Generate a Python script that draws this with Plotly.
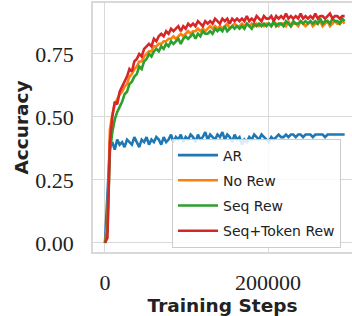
import plotly.graph_objects as go

steps = [3000 * i for i in range(99)]

ar = [0.00, 0.17, 0.38, 0.40, 0.37, 0.41, 0.39, 0.40, 0.38, 0.41,
      0.40, 0.39, 0.42, 0.40, 0.38, 0.41, 0.40, 0.42, 0.39, 0.41,
      0.40, 0.42, 0.41, 0.39, 0.42, 0.40, 0.41, 0.43, 0.40, 0.42,
      0.41, 0.43, 0.40, 0.42, 0.41, 0.43, 0.42, 0.40, 0.43, 0.41,
      0.42, 0.44, 0.41, 0.43, 0.42, 0.41, 0.43, 0.42, 0.44, 0.41,
      0.43, 0.42, 0.40, 0.43, 0.41, 0.42, 0.39, 0.41, 0.40, 0.42,
      0.41, 0.43, 0.42, 0.41, 0.43, 0.42, 0.41, 0.40, 0.42, 0.41,
      0.42, 0.43, 0.42, 0.42, 0.43, 0.42, 0.43, 0.43, 0.42, 0.43,
      0.43, 0.42, 0.43, 0.43, 0.43, 0.42, 0.43, 0.43, 0.43, 0.43,
      0.42, 0.43, 0.43, 0.43, 0.43, 0.43, 0.43, 0.43, 0.43]

no_rew = [0.00, 0.08, 0.45, 0.51, 0.55, 0.57, 0.59, 0.60, 0.62, 0.63,
          0.66, 0.67, 0.69, 0.70, 0.72, 0.72, 0.74, 0.75, 0.76, 0.76,
          0.78, 0.78, 0.79, 0.79, 0.80, 0.80, 0.81, 0.81, 0.82, 0.81,
          0.82, 0.83, 0.82, 0.83, 0.84, 0.83, 0.84, 0.84, 0.85, 0.84,
          0.85, 0.84, 0.85, 0.86, 0.85, 0.86, 0.85, 0.86, 0.85, 0.86,
          0.87, 0.85, 0.86, 0.87, 0.86, 0.86, 0.87, 0.86, 0.87, 0.86,
          0.87, 0.86, 0.87, 0.86, 0.87, 0.86, 0.87, 0.87, 0.86, 0.87,
          0.87, 0.86, 0.87, 0.87, 0.86, 0.88, 0.86, 0.87, 0.87, 0.86,
          0.88, 0.87, 0.86, 0.87, 0.88, 0.86, 0.87, 0.87, 0.88, 0.86,
          0.87, 0.88, 0.86, 0.87, 0.88, 0.87, 0.87, 0.88, 0.87]

seq_rew = [0.00, 0.05, 0.36, 0.44, 0.49, 0.52, 0.54, 0.56, 0.59, 0.60,
           0.63, 0.64, 0.66, 0.67, 0.70, 0.69, 0.72, 0.73, 0.75, 0.74,
           0.76, 0.77, 0.76, 0.78, 0.77, 0.79, 0.78, 0.80, 0.79, 0.80,
           0.81, 0.79, 0.81, 0.82, 0.81, 0.82, 0.83, 0.81, 0.83, 0.82,
           0.84, 0.83, 0.83, 0.84, 0.83, 0.85, 0.84, 0.85, 0.84, 0.86,
           0.84, 0.85, 0.86, 0.85, 0.86, 0.85, 0.86, 0.85, 0.87, 0.86,
           0.85, 0.87, 0.86, 0.87, 0.86, 0.87, 0.86, 0.87, 0.86, 0.88,
           0.86, 0.87, 0.87, 0.86, 0.88, 0.87, 0.86, 0.88, 0.87, 0.87,
           0.88, 0.87, 0.88, 0.87, 0.88, 0.87, 0.88, 0.87, 0.89, 0.87,
           0.88, 0.88, 0.87, 0.89, 0.88, 0.88, 0.87, 0.89, 0.88]

seq_token_rew = [0.00, 0.02, 0.40, 0.50, 0.56, 0.55, 0.60, 0.62, 0.64, 0.66,
                 0.69, 0.68, 0.72, 0.73, 0.75, 0.74, 0.77, 0.78, 0.79, 0.78,
                 0.81, 0.80, 0.82, 0.83, 0.82, 0.84, 0.83, 0.85, 0.84, 0.85,
                 0.86, 0.84, 0.86, 0.85, 0.87, 0.86, 0.87, 0.86, 0.88, 0.87,
                 0.86, 0.88, 0.87, 0.88, 0.87, 0.89, 0.88, 0.87, 0.89, 0.88,
                 0.89, 0.87, 0.89, 0.88, 0.89, 0.88, 0.89, 0.88, 0.90, 0.88,
                 0.89, 0.88, 0.90, 0.89, 0.88, 0.90, 0.89, 0.89, 0.90, 0.88,
                 0.90, 0.89, 0.90, 0.89, 0.91, 0.89, 0.90, 0.89, 0.90, 0.89,
                 0.91, 0.89, 0.90, 0.89, 0.90, 0.89, 0.91, 0.89, 0.90, 0.90,
                 0.89, 0.90, 0.91, 0.89, 0.90, 0.90, 0.89, 0.90, 0.90]

series = [
    ("AR", ar, "#1f77b4"),
    ("No Rew", no_rew, "#ff7f0e"),
    ("Seq Rew", seq_rew, "#2ca02c"),
    ("Seq+Token Rew", seq_token_rew, "#d62728"),
]

x_ticks = [0, 200000]
y_ticks = [0.0, 0.25, 0.5, 0.75]

fig = go.Figure()
for name, vals, color in series:
    fig.add_trace(go.Scatter(x=steps, y=vals, mode="lines", name=name,
                             legendgroup=name,
                             line=dict(color=color, width=2.6)))

grid = "#d9d9d9"
fig.update_layout(
    width=352, height=316,
    margin=dict(l=93, r=0, t=3, b=64),
    paper_bgcolor="white", plot_bgcolor="white",
    showlegend=True,
    legend=dict(x=0.305, y=0.018, xanchor="left", yanchor="bottom",
                bgcolor="rgba(255,255,255,0.85)", bordercolor="#cccccc",
                borderwidth=1, font=dict(family="DejaVu Sans", size=14, color="#222222"),
                tracegroupgap=4, itemwidth=40),
    xaxis=dict(range=[-14700, 303000], tickvals=x_ticks,
               ticktext=[str(v) for v in x_ticks],
               showgrid=True, gridcolor=grid, gridwidth=1,
               showline=True, linecolor=grid, linewidth=1.5, mirror=True,
               zeroline=False, ticks="", ticklabelstandoff=10, automargin=False,
               tickfont=dict(family="Liberation Serif", size=22, color="#222222"),
               title=dict(text="Training Steps", standoff=3,
                          font=dict(family="DejaVu Sans", size=18.5, weight="bold", color="#222222"))),
    yaxis=dict(range=[-0.036, 0.952], tickvals=y_ticks,
               ticktext=["0.00", "0.25", "0.50", "0.75"],
               showgrid=True, gridcolor=grid, gridwidth=1,
               showline=True, linecolor=grid, linewidth=1.5, mirror=True,
               zeroline=False, ticks="", ticklabelstandoff=13, automargin=False,
               tickfont=dict(family="Liberation Serif", size=22, color="#222222"),
               title=dict(text="Accuracy", standoff=2,
                          font=dict(family="DejaVu Sans", size=18.5, weight="bold", color="#222222"))),
)

fig.write_html("out.html", config={"displayModeBar": False},
               post_script="document.body.style.margin='0px';")
